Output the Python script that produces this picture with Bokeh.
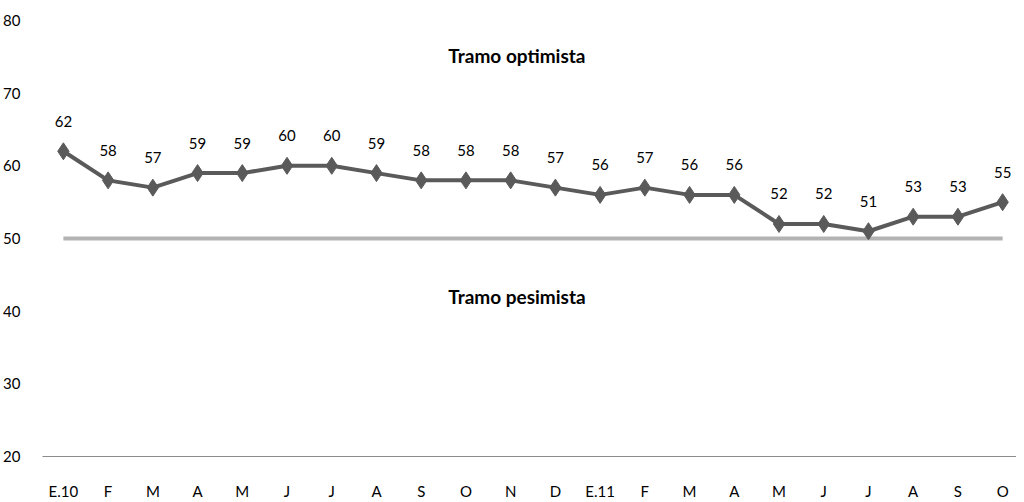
from bokeh.plotting import figure
from bokeh.models import ColumnDataSource, FixedTicker, Range1d, Label
from bokeh.core.properties import value
from bokeh.embed import file_html
from bokeh.resources import INLINE

months = ["E.10", "F", "M", "A", "M", "J", "J", "A", "S", "O", "N", "D",
          "E.11", "F", "M", "A", "M", "J", "J", "A", "S", "O"]
values = [62, 58, 57, 59, 59, 60, 60, 59, 58, 58, 58, 57,
          56, 57, 56, 56, 52, 52, 51, 53, 53, 55]
threshold = 50
y_ticks = [20, 30, 40, 50, 60, 70, 80]

xs = list(range(len(months)))
src = ColumnDataSource(dict(x=xs, y=values, lab=[str(v) for v in values]))

FONT = "Lato"

p = figure(width=1016, height=502, output_backend="svg", toolbar_location=None,
           x_range=Range1d(-0.467, 21.31), y_range=Range1d(20, 80),
           min_border_left=37, min_border_right=0, min_border_top=20, min_border_bottom=45)
p.outline_line_color = None
p.xgrid.visible = False
p.ygrid.visible = False
p.background_fill_color = "white"

# threshold line
p.line([xs[0], xs[-1]], [threshold, threshold], line_color="#b3b3b3", line_width=4)

p.line("x", "y", source=src, line_color="#5a5a5a", line_width=4)
p.scatter("x", "y", source=src, marker="diamond", size=17, fill_color="#5a5a5a",
          line_color="#5a5a5a")
p.text("x", "y", text="lab", source=src, text_align="center", text_baseline="middle",
       y_offset=-30, text_font=value(FONT), text_font_size="15px", text_color="#000000")

p.add_layout(Label(x=10.14, y=75.2, text="Tramo optimista", text_align="center",
                   text_baseline="middle", text_font=FONT, text_font_size="19px",
                   text_font_style="bold", text_color="#000000"))
p.add_layout(Label(x=10.14, y=41.95, text="Tramo pesimista", text_align="center",
                   text_baseline="middle", text_font=FONT, text_font_size="19px",
                   text_font_style="bold", text_color="#000000"))

p.xaxis.ticker = FixedTicker(ticks=xs)
p.xaxis.major_label_overrides = {i: m for i, m in enumerate(months)}
p.xaxis.axis_line_color = "#8c8c8c"
p.xaxis.axis_line_width = 1
p.xaxis.major_tick_line_color = None
p.xaxis.minor_tick_line_color = None
p.xaxis.major_label_standoff = 19
p.xaxis.major_label_text_font = FONT
p.xaxis.major_label_text_font_size = "15px"
p.xaxis.major_label_text_color = "#000000"

p.yaxis.ticker = FixedTicker(ticks=y_ticks)
p.yaxis.axis_line_color = None
p.yaxis.major_tick_line_color = None
p.yaxis.minor_tick_line_color = None
p.yaxis.major_label_standoff = 16
p.yaxis.major_label_text_font = FONT
p.yaxis.major_label_text_font_size = "15px"
p.yaxis.major_label_text_color = "#000000"

open("out.html", "w").write(file_html(p, INLINE))
